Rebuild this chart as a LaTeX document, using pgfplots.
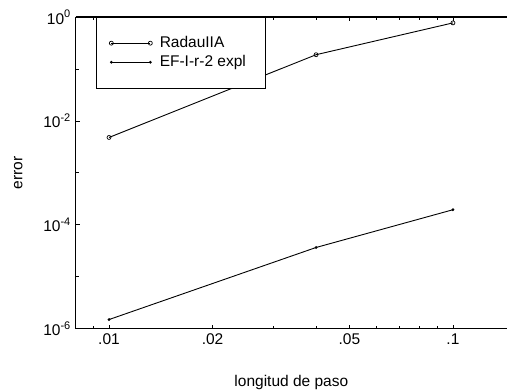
\documentclass[border=0pt]{standalone}
\usepackage{fontspec}
\setmainfont{Liberation Sans}
\usepackage{pgfplots}
\pgfplotsset{compat=1.18}
\newcommand{\tp}[1]{10\raisebox{0.42em}{\fontsize{11}{12}\selectfont #1}}
\begin{document}
\fontsize{15.5}{18}\selectfont
\begin{tikzpicture}
\begin{axis}[name=ax, scale only axis, width=431.3pt, height=311.7pt,
 xmode=log, ymode=log, xmin=0.008, xmax=0.1436, ymin=1e-6, ymax=1,
 axis x line*=box, axis y line*=left, axis line style={-, line width=1.4pt},
 tick align=inside, major tick length=4pt, minor tick length=3pt,
 tick style={black, line width=0.8pt},
 xtick={0.01,0.02,0.05,0.1}, xticklabels={.01,.02,.05,.1},
 minor xtick={0.008,0.009,0.03,0.04,0.06,0.07,0.08,0.09},
 ytick={1e-6,1e-4,1e-2,1}, yticklabels={\tp{-6},\tp{-4},\tp{-2},\tp{0}},
 minor ytick={1e-5,1e-3,1e-1},
 font=\fontsize{15.5}{18}\selectfont,
 ticklabel style={font=\fontsize{15.5}{18}\selectfont},
 xlabel={longitud de paso}, ylabel={error},
 every axis x label/.style={at={(axis description cs:0.5,-0.1843)}, anchor=base, font=\fontsize{15.5}{18}\selectfont},
 every axis y label/.style={at={(axis description cs:-0.1237,0.5)}, rotate=90, anchor=base, font=\fontsize{15.5}{18}\selectfont},
 legend style={at={(axis description cs:0.0469,1)}, anchor=north west, draw=black, line width=0.8pt,
   font=\fontsize{15.5}{18}\selectfont, inner xsep=13pt, inner ysep=18pt, row sep=3.5pt,
   nodes={inner ysep=1pt}},
 legend cell align=left,
 legend image code/.code={\draw[#1] plot coordinates {(0pt,0pt) (39pt,0pt)}; \path (-1pt,0pt) (46pt,0pt);},
]
\addplot[black, line width=0.9pt, mark=o, mark size=2pt, mark options={fill=white, line width=0.7pt}]
 coordinates {(0.01,4.8e-3) (0.04,0.188) (0.1,0.77)};
\addlegendentry{RadauIIA}
\addplot[black, line width=0.9pt, mark=*, mark size=0.9pt]
 coordinates {(0.01,1.5e-6) (0.04,3.66e-5) (0.1,1.95e-4)};
\addlegendentry{EF-I-r-2 expl\hspace*{5pt}}
\end{axis}
\pgfresetboundingbox
\path[use as bounding box] ([shift={(-75.7pt,-62.3pt)}]ax.south west) rectangle ([shift={(0pt,17pt)}]ax.north east);
\end{tikzpicture}
\end{document}
